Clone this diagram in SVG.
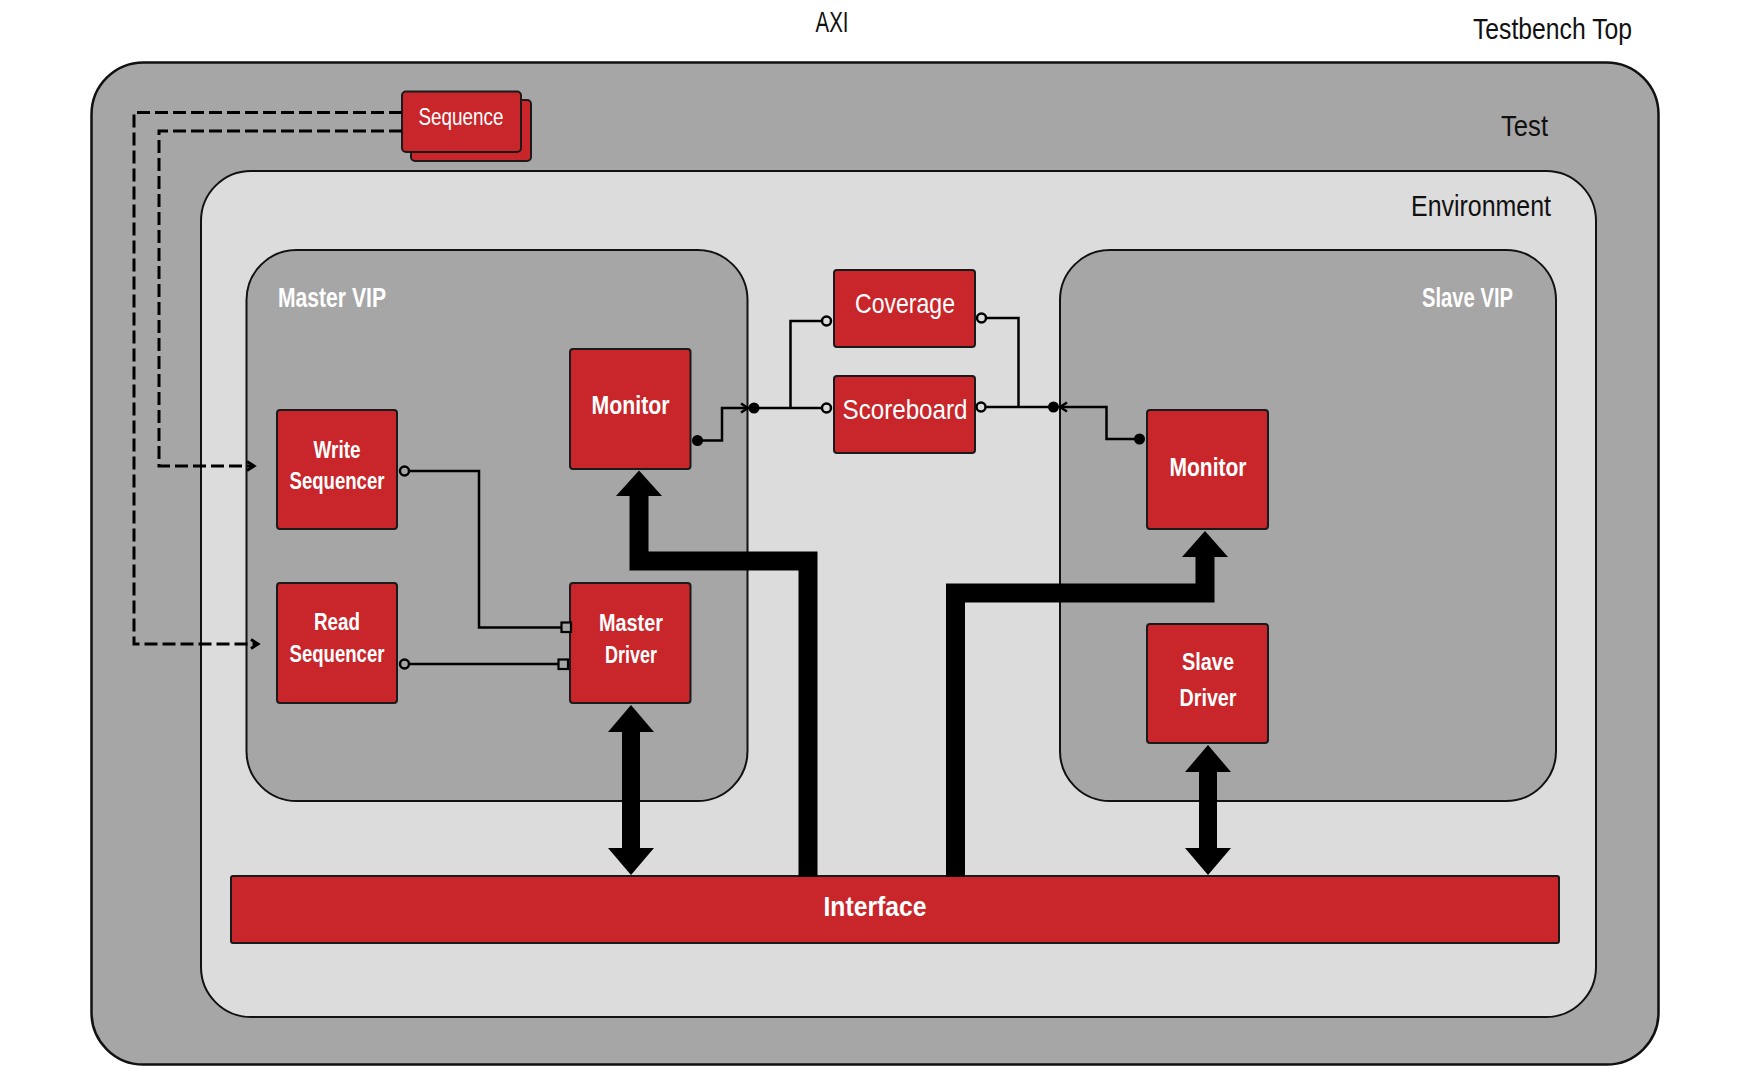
<svg xmlns="http://www.w3.org/2000/svg" width="1750" height="1080" viewBox="0 0 1750 1080">
<style>
.hdr{font-family:"Liberation Sans",Arial,sans-serif;font-size:29px;fill:#111;}
.vip{font-family:"Liberation Sans",Arial,sans-serif;font-size:27px;font-weight:bold;fill:#fff;}
.box{fill:#c8262a;stroke:#1a1a1a;stroke-width:2;}
.lbl{font-family:"Liberation Sans",Arial,sans-serif;font-size:24px;font-weight:bold;fill:#fff;text-anchor:middle;}
.reg{font-family:"Liberation Sans",Arial,sans-serif;font-size:28px;fill:#fff;text-anchor:middle;}
.thin{fill:none;stroke:#000;stroke-width:2.5;}
.dash{fill:none;stroke:#000;stroke-width:3;stroke-dasharray:13 5;}
.thick{fill:none;stroke:#000;stroke-width:19;stroke-linejoin:miter;}
.ocirc{stroke:#000;stroke-width:2.5;}
</style>
<defs>
<marker id="chev" markerWidth="12" markerHeight="12" refX="9" refY="6" orient="auto" markerUnits="userSpaceOnUse">
<path d="M2,1.5 L9,6 L2,10.5" fill="none" stroke="#000" stroke-width="2.5"/>
</marker>
<marker id="chevd" markerWidth="12" markerHeight="12" refX="9" refY="6" orient="auto" markerUnits="userSpaceOnUse">
<path d="M2,1.5 L9,6 L2,10.5" fill="none" stroke="#000" stroke-width="3"/>
</marker>
</defs>
<rect width="1750" height="1080" fill="#fff"/>
<text class="hdr" x="832" y="32" text-anchor="middle" textLength="33" lengthAdjust="spacingAndGlyphs">AXI</text>
<text class="hdr" x="1473" y="39" textLength="159" lengthAdjust="spacingAndGlyphs">Testbench Top</text>
<g id="test">
<rect x="91.5" y="62.5" width="1567" height="1002" rx="52" fill="#a6a6a6" stroke="#111" stroke-width="2.5"/>
<text class="hdr" x="1501" y="136" textLength="47" lengthAdjust="spacingAndGlyphs">Test</text>
</g>
<g id="environment">
<rect x="201" y="171" width="1395" height="846" rx="50" fill="#dcdcdc" stroke="#111" stroke-width="2"/>
<text class="hdr" x="1411" y="216" textLength="140" lengthAdjust="spacingAndGlyphs">Environment</text>
</g>
<g id="master-vip">
<rect x="246.5" y="250" width="501" height="551" rx="50" fill="#a6a6a6" stroke="#111" stroke-width="2"/>
<text class="vip" x="278" y="307" textLength="108" lengthAdjust="spacingAndGlyphs">Master VIP</text>
</g>
<g id="slave-vip">
<rect x="1060" y="250" width="496" height="551" rx="50" fill="#a6a6a6" stroke="#111" stroke-width="2"/>
<text class="vip" x="1422" y="307" textLength="91" lengthAdjust="spacingAndGlyphs">Slave VIP</text>
</g>
<g id="sequence">
<rect class="box" x="411" y="100" width="120" height="61" rx="4"/>
<rect class="box" x="402" y="91.5" width="119" height="60.5" rx="4"/>
<text class="reg" x="461" y="125" style="font-size:23px" textLength="85" lengthAdjust="spacingAndGlyphs">Sequence</text>
</g>
<g id="write-sequencer">
<rect class="box" x="277" y="410" width="120" height="119" rx="3"/>
<text class="lbl" x="337" y="458" textLength="47" lengthAdjust="spacingAndGlyphs">Write</text>
<text class="lbl" x="337" y="489" textLength="95" lengthAdjust="spacingAndGlyphs">Sequencer</text>
</g>
<g id="read-sequencer">
<rect class="box" x="277" y="583" width="120" height="120" rx="3"/>
<text class="lbl" x="337" y="630" textLength="46" lengthAdjust="spacingAndGlyphs">Read</text>
<text class="lbl" x="337" y="662" textLength="95" lengthAdjust="spacingAndGlyphs">Sequencer</text>
</g>
<g id="master-monitor">
<rect class="box" x="570" y="349" width="120.5" height="120" rx="3"/>
<text class="lbl" x="630.5" y="414" style="font-size:25px" textLength="78" lengthAdjust="spacingAndGlyphs">Monitor</text>
</g>
<g id="master-driver">
<rect class="box" x="570" y="583" width="120.5" height="120" rx="3"/>
<text class="lbl" x="631" y="631" textLength="64" lengthAdjust="spacingAndGlyphs">Master</text>
<text class="lbl" x="631" y="663" textLength="52" lengthAdjust="spacingAndGlyphs">Driver</text>
</g>
<g id="coverage">
<rect class="box" x="834" y="270" width="141" height="77" rx="3"/>
<text class="reg" x="905" y="313" textLength="100" lengthAdjust="spacingAndGlyphs">Coverage</text>
</g>
<g id="scoreboard">
<rect class="box" x="834" y="376" width="141" height="77" rx="3"/>
<text class="reg" x="905" y="419" textLength="125" lengthAdjust="spacingAndGlyphs">Scoreboard</text>
</g>
<g id="slave-monitor">
<rect class="box" x="1147" y="410" width="121" height="119" rx="3"/>
<text class="lbl" x="1208" y="475.5" style="font-size:25px" textLength="77" lengthAdjust="spacingAndGlyphs">Monitor</text>
</g>
<g id="slave-driver">
<rect class="box" x="1147" y="624" width="121" height="119" rx="3"/>
<text class="lbl" x="1208" y="669.5" textLength="52" lengthAdjust="spacingAndGlyphs">Slave</text>
<text class="lbl" x="1208" y="706" textLength="57" lengthAdjust="spacingAndGlyphs">Driver</text>
</g>
<g id="interface">
<rect class="box" x="231" y="876" width="1328" height="67" rx="2"/>
<text class="lbl" x="875" y="915.5" style="font-size:27px" textLength="103" lengthAdjust="spacingAndGlyphs">Interface</text>
</g>
<g id="connectors">
<path class="dash" d="M402,112.5 H134 V644 H258" marker-end="url(#chevd)"/>
<path class="dash" d="M402,131 H159 V466 H254" marker-end="url(#chevd)"/>
<path class="thin" d="M409,471 H479 V627.5 H561.5"/>
<path class="thin" d="M409,664 H558.5"/>
<circle class="ocirc" cx="404.5" cy="471" r="4.5" fill="#a6a6a6"/>
<circle class="ocirc" cx="404.5" cy="664" r="4.5" fill="#a6a6a6"/>
<rect x="561.5" y="622.5" width="9.5" height="9.5" fill="#a6a6a6" stroke="#000" stroke-width="2.2"/>
<rect x="558.5" y="659.5" width="9.5" height="9.5" fill="#a6a6a6" stroke="#000" stroke-width="2.2"/>
<path class="thin" d="M697.5,440.5 H722 V408 H748" marker-end="url(#chev)"/>
<circle cx="697.5" cy="440.5" r="5.5" fill="#000"/>
<path class="thin" d="M754,408 H822"/>
<path class="thin" d="M790.5,408 V321 H822"/>
<circle cx="754" cy="408" r="5.5" fill="#000"/>
<circle class="ocirc" cx="826.5" cy="321" r="4.5" fill="#dcdcdc"/>
<circle class="ocirc" cx="826.5" cy="408" r="4.5" fill="#dcdcdc"/>
<path class="thin" d="M986.5,318 H1018.5 V407"/>
<path class="thin" d="M985.5,407 H1053"/>
<circle class="ocirc" cx="981.5" cy="318" r="4.5" fill="#dcdcdc"/>
<circle class="ocirc" cx="981" cy="407" r="4.5" fill="#dcdcdc"/>
<path class="thin" d="M1139.5,439 H1106.5 V407 H1060" marker-end="url(#chev)"/>
<circle cx="1053.5" cy="407" r="5.5" fill="#000"/>
<circle cx="1139.5" cy="439" r="5.5" fill="#000"/>
<path class="thick" d="M808,877 V561 H639 V494"/>
<polygon points="616,496 662,496 639,470.5" fill="#000"/>
<path class="thick" d="M955.5,877 V593 H1205 V555"/>
<polygon points="1182,557 1228,557 1205,531" fill="#000"/>
<line x1="631" y1="730" x2="631" y2="850" stroke="#000" stroke-width="18"/>
<polygon points="608,732 654,732 631,705" fill="#000"/>
<polygon points="608,848 654,848 631,875" fill="#000"/>
<line x1="1208" y1="770" x2="1208" y2="850" stroke="#000" stroke-width="18"/>
<polygon points="1185,772 1231,772 1208,745" fill="#000"/>
<polygon points="1185,848 1231,848 1208,875" fill="#000"/>
</g>
</svg>
